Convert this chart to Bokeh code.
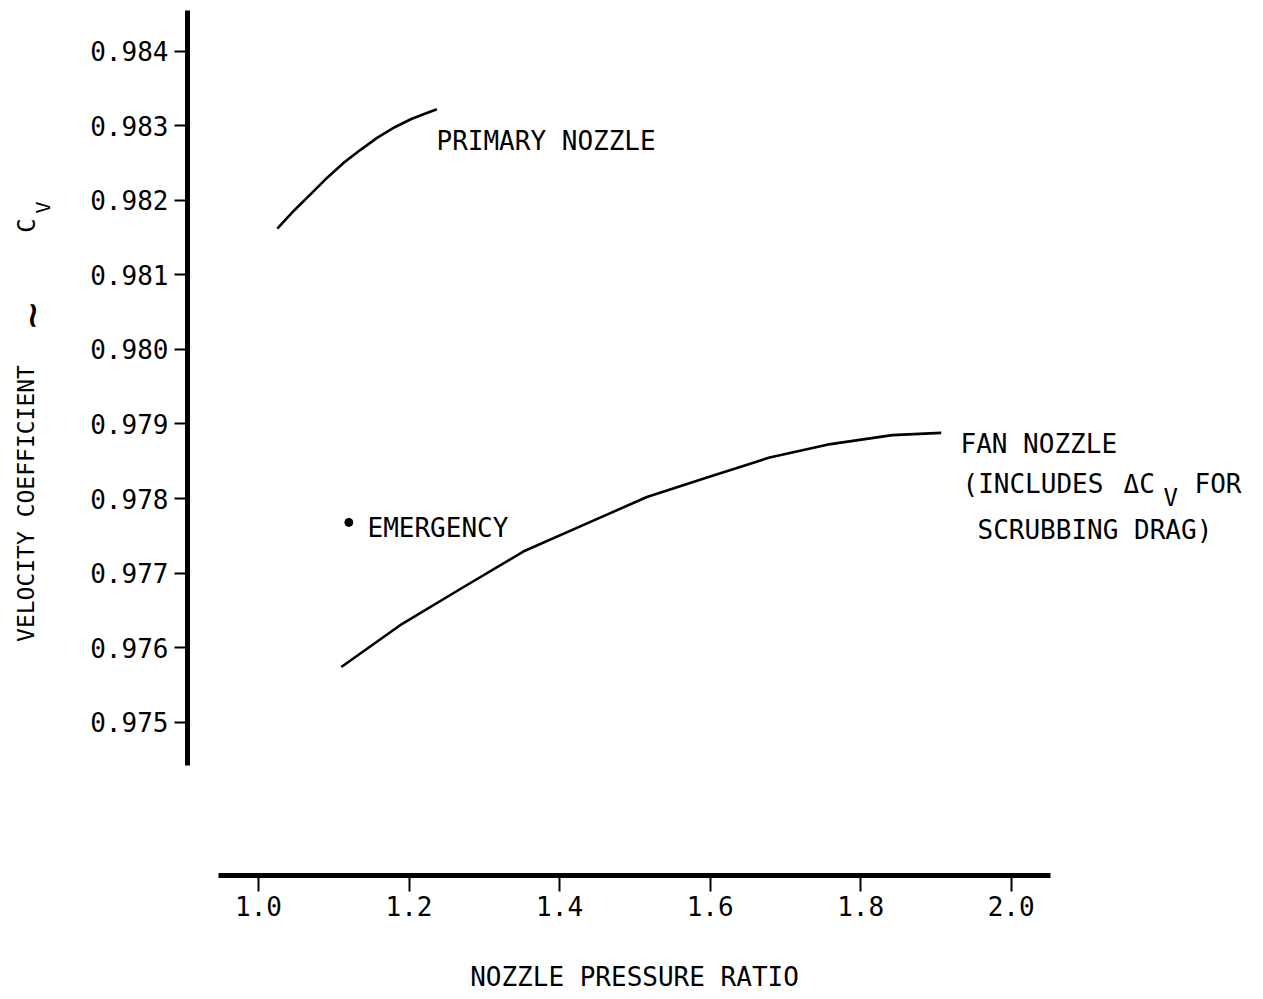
import math
from bokeh.plotting import figure
from bokeh.models import Range1d, FixedTicker, PrintfTickFormatter, Label
from bokeh.embed import file_html
from bokeh.resources import INLINE

# ---- data ----
primary_npr = [1.025, 1.047, 1.069, 1.092, 1.114, 1.136, 1.158, 1.181, 1.203, 1.221, 1.237]
primary_cv = [0.98162, 0.98186, 0.98208, 0.98231, 0.98251, 0.98268, 0.98284, 0.98298,
              0.98309, 0.98316, 0.98322]

fan_npr = [1.110, 1.191, 1.272, 1.354, 1.435, 1.516, 1.598, 1.679, 1.760, 1.842, 1.907]
fan_cv = [0.97574, 0.97632, 0.97681, 0.97730, 0.97766, 0.97802, 0.97829, 0.97855,
          0.97873, 0.97885, 0.97888]

emergency_npr = [1.120]
emergency_cv = [0.97768]

x_ticks = [1.0, 1.2, 1.4, 1.6, 1.8, 2.0]
y_ticks = [0.975, 0.976, 0.977, 0.978, 0.979, 0.980, 0.981, 0.982, 0.983, 0.984]

FONT = "DejaVu Sans Mono"

# canvas-pixel -> data helpers (used only to place frame edges, axes and annotations)
def dx(px):
    return 1.0 + (px - 258.0) / 752.7

def dy(py):
    return 0.975 + (721.7 - py) / 74560.0

W, H = 1260, 995

p = figure(width=W, height=H, title=None, output_backend="svg", toolbar_location=None,
           x_range=Range1d(dx(0), dx(W)), y_range=Range1d(dy(H), dy(0)),
           min_border_left=0, min_border_right=0, min_border_top=0, min_border_bottom=0)
p.outline_line_color = None
p.xgrid.visible = False
p.ygrid.visible = False
p.background_fill_color = "white"
p.border_fill_color = "white"

# y axis (vertical line at NPR position of x pixel 187)
ya = p.yaxis[0]
ya.fixed_location = dx(187)
ya.ticker = FixedTicker(ticks=y_ticks)
ya.formatter = PrintfTickFormatter(format="%.3f")
ya.bounds = (dy(765), dy(10))
ya.axis_line_width = 5
ya.axis_line_color = "black"
ya.major_tick_line_width = 2
ya.major_tick_out = 13
ya.major_tick_in = 0
ya.minor_tick_out = 0
ya.minor_tick_in = 0
ya.major_label_standoff = 6
ya.major_label_text_font = FONT
ya.major_label_text_font_size = "26px"
ya.major_label_text_color = "black"

# x axis, detached below the y axis
xa = p.xaxis[0]
xa.fixed_location = dy(875)
xa.ticker = FixedTicker(ticks=x_ticks)
xa.formatter = PrintfTickFormatter(format="%.1f")
xa.bounds = (dx(218), dx(1050))
xa.axis_line_width = 5
xa.axis_line_color = "black"
xa.major_tick_line_width = 2
xa.major_tick_out = 16
xa.major_tick_in = 0
xa.minor_tick_out = 0
xa.minor_tick_in = 0
xa.major_label_standoff = 4
xa.major_label_text_font = FONT
xa.major_label_text_font_size = "26px"
xa.major_label_text_color = "black"
xa.axis_label = "NOZZLE PRESSURE RATIO"
xa.axis_label_text_font = FONT
xa.axis_label_text_font_size = "26px"
xa.axis_label_text_font_style = "normal"
xa.axis_label_text_color = "black"
xa.axis_label_standoff = 43

# curves
p.line(primary_npr, primary_cv, line_color="black", line_width=2.6, line_join="round")
p.line(fan_npr, fan_cv, line_color="black", line_width=2.6, line_join="round")
p.scatter(emergency_npr, emergency_cv, size=8, color="black")

def lab(text, px, py, size="26px", angle=0.0, align="left"):
    p.add_layout(Label(x=dx(px), y=dy(py), text=text, text_font=FONT,
                       text_font_size=size, text_color="black",
                       text_align=align, text_baseline="middle", angle=angle))

lab("PRIMARY NOZZLE", 436, 140)
lab("EMERGENCY", 367, 527)
lab("FAN NOZZLE", 960, 443)
lab("(INCLUDES", 962, 483)
lab("\u0394C", 1123, 483)
lab("V", 1163, 497, size="24px")
lab("FOR", 1194, 483)
lab("SCRUBBING DRAG)", 977, 529)

# y axis title (rotated), with subscript V
lab("VELOCITY COEFFICIENT", 25, 503, size="23px", angle=math.pi / 2, align="center")
lab("~", 31, 315, size="44px", angle=math.pi / 2, align="center")
lab("C", 26, 225, size="24px", angle=math.pi / 2, align="center")
lab("V", 42, 207, size="20px", angle=math.pi / 2, align="center")

open("out.html", "w").write(file_html(p, INLINE))
